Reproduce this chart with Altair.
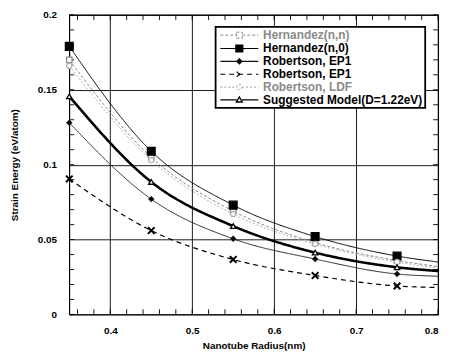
import altair as alt
import pandas as pd

# ---------------- data ----------------
radius = [0.35, 0.45, 0.55, 0.65, 0.75, 0.80]
marker_radius_max = 0.75

series_names = [
    "Hernandez(n,n)",
    "Hernandez(n,0)",
    "Robertson, EP1",
    "Robertson, EP1*",
    "Robertson, LDF",
    "Suggested Model(D=1.22eV)",
]
hern_nn = [0.170, 0.105, 0.069, 0.048, 0.036, 0.032]
hern_n0 = [0.179, 0.109, 0.073, 0.052, 0.039, 0.035]
rob_ep1_d = [0.128, 0.077, 0.0505, 0.037, 0.027, 0.0255]
rob_ep1_x = [0.0905, 0.056, 0.0367, 0.026, 0.019, 0.018]
rob_ldf = [0.166, 0.103, 0.067, 0.047, 0.035, 0.031]
suggested = [0.1456, 0.0885, 0.059, 0.0413, 0.0315, 0.029]
all_values = [hern_nn, hern_n0, rob_ep1_d, rob_ep1_x, rob_ldf, suggested]

x_minor = [round(0.36 + 0.02 * i, 2) for i in range(23)]
y_minor = [round(0.01 * i, 2) for i in range(21)]
x_labels = [0.4, 0.5, 0.6, 0.7, 0.8]
y_labels = [0, 0.05, 0.1, 0.15, 0.2]

XMARK = "M-1,-1L1,1M-1,1L1,-1"

# ---------------- styles ----------------
styles = {
    "Hernandez(n,n)": dict(color="#8a8a8a", dash=[3, 2], width=1.0, shape="square", fill="white", size=30, sw=1.3),
    "Hernandez(n,0)": dict(color="#000000", dash=[1, 0], width=1.0, shape="square", fill="#000000", size=62, sw=1.3),
    "Robertson, EP1": dict(color="#111111", dash=[1, 0], width=0.9, shape="diamond", fill="#000000", size=22, sw=1.3),
    "Robertson, EP1*": dict(color="#000000", dash=[5, 4], width=1.2, shape=XMARK, fill="#000000", size=45, sw=2.0),
    "Robertson, LDF": dict(color="#b0b0b0", dash=[2, 2], width=1.0, shape="circle", fill="white", size=28, sw=1.3),
    "Suggested Model(D=1.22eV)": dict(color="#000000", dash=[1, 0], width=2.6, shape="triangle-up", fill="white", size=30, sw=1.3),
}
legend_paths = {
    "Hernandez(n,n)": "M-3.2,0H-0.5M0.5,0H3.2M-0.5,-0.5H0.5V0.5H-0.5Z",
    "Hernandez(n,0)": "M-3.2,0H3.2M-0.6,-0.6H0.6V0.6H-0.6Z",
    "Robertson, EP1": "M-3.2,0H3.2M0,-0.45L0.45,0L0,0.45L-0.45,0Z",
    "Robertson, EP1*": "M-3.2,0H3.2M-0.45,-0.45L0.45,0.45M-0.45,0.45L0.45,-0.45",
    "Robertson, LDF": "M-3.2,0H-0.45M0.45,0H3.2M0.45,0A0.45,0.45 0 1,1 -0.45,0A0.45,0.45 0 1,1 0.45,0Z",
    "Suggested Model(D=1.22eV)": "M-3.2,0H-0.45M0.45,0H3.2M0,-0.5L0.5,0.35L-0.5,0.35Z",
}

rows = []
for name, vals in zip(series_names, all_values):
    for r, v in zip(radius, vals):
        rows.append({"series": name, "r": r, "e": v})
df = pd.DataFrame(rows)

FONT = "Liberation Sans"
xscale = alt.Scale(domain=[0.35, 0.8], nice=False, zero=False)
yscale = alt.Scale(domain=[0, 0.2], nice=False)

base = alt.Chart(df)

layers = []
for name in series_names:
    s = styles[name]
    line = base.transform_filter(alt.datum.series == name).mark_line(
        color=s["color"], strokeDash=s["dash"], strokeWidth=s["width"], interpolate="monotone"
    ).encode(
        x=alt.X("r:Q", scale=xscale,
                axis=alt.Axis(values=x_labels, format=".1f", title="Nanotube Radius(nm)",
                              grid=True, gridColor="#000", gridOpacity=1, gridWidth=0.9,
                              domain=False, ticks=False, labelFont=FONT, labelFontSize=10,
                              labelColor="#000", labelFontWeight="bold", labelPadding=11,
                              titleFont=FONT, titleFontSize=10, titleFontWeight="bold",
                              titleColor="#000", titlePadding=5)),
        y=alt.Y("e:Q", scale=yscale,
                axis=alt.Axis(values=y_labels, labelExpr="toString(datum.value)",
                              title="Strain Energy (eV/atom)",
                              grid=True, gridColor="#000", gridOpacity=1, gridWidth=0.9,
                              domain=False, ticks=False, labelFont=FONT, labelFontSize=10,
                              labelColor="#000", labelFontWeight="bold", labelPadding=13,
                              titleFont=FONT, titleFontSize=10, titleFontWeight="bold",
                              titleColor="#000", titlePadding=18)),
    )
    pts = base.transform_filter(
        (alt.datum.series == name) & (alt.datum.r <= marker_radius_max)
    ).mark_point(
        shape=s["shape"], filled=True, fill=s["fill"], stroke=s["color"],
        strokeWidth=s["sw"], size=s["size"], opacity=1
    ).encode(x="r:Q", y="e:Q")
    layers += [line, pts]

leg = alt.Legend(
    title=None,
    labelExpr="replace(datum.label, '*', '')",
    labelColor=alt.ExprRef(expr="(datum.value == 'Hernandez(n,n)' || datum.value == 'Robertson, LDF') ? '#8a8a8a' : '#000'"),
)

# legend-only layer (no visible marks)
legend_layer = base.transform_filter("datum.r < 0").mark_point(filled=True, opacity=1).encode(
    x="r:Q", y="e:Q",
    shape=alt.Shape("series:N", scale=alt.Scale(domain=series_names,
                                                 range=[legend_paths[n] for n in series_names]),
                    legend=leg),
    stroke=alt.Stroke("series:N", scale=alt.Scale(domain=series_names,
                                                   range=[styles[n]["color"] for n in series_names]),
                      legend=leg),
    fill=alt.Fill("series:N", scale=alt.Scale(domain=series_names,
                                               range=[styles[n]["fill"] for n in series_names]),
                  legend=leg),
    strokeDash=alt.StrokeDash("series:N", scale=alt.Scale(domain=series_names,
                                                           range=[styles[n]["dash"] for n in series_names]),
                              legend=leg),
    strokeWidth=alt.StrokeWidth("series:N", scale=alt.Scale(domain=series_names,
                                                             range=[1.0, 1.3, 1.0, 1.3, 1.0, 2.4]),
                                legend=leg),
)

# minor ticks (inward) on all four sides
xt = pd.DataFrame({"t": x_minor})
yt = pd.DataFrame({"t": y_minor})
tick_bottom = alt.Chart(xt).mark_rule(color="#000", strokeWidth=0.9).encode(
    x=alt.X("t:Q", scale=xscale), y=alt.datum(0), y2=alt.datum(0.0035))
tick_top = alt.Chart(xt).mark_rule(color="#000", strokeWidth=0.9).encode(
    x=alt.X("t:Q", scale=xscale), y=alt.datum(0.2), y2=alt.datum(0.1965))
tick_left = alt.Chart(yt).mark_rule(color="#000", strokeWidth=0.9).encode(
    y=alt.Y("t:Q", scale=yscale), x=alt.datum(0.35), x2=alt.datum(0.356))
tick_right = alt.Chart(yt).mark_rule(color="#000", strokeWidth=0.9).encode(
    y=alt.Y("t:Q", scale=yscale), x=alt.datum(0.8), x2=alt.datum(0.794))

chart = alt.layer(
    tick_bottom, tick_top, tick_left, tick_right, *layers, legend_layer
).properties(
    width=373, height=303,
    padding={"left": 62, "top": 5, "right": 4, "bottom": 36},
    autosize=alt.AutoSizeParams(type="none"),
    background="white",
).configure_view(
    stroke="#000", strokeWidth=1.2
).configure_legend(
    orient="none", legendX=148, legendY=12,
    strokeColor="#000", strokeWidth=1.8, fillColor="white",
    padding=2, rowPadding=0, symbolSize=144, symbolStrokeWidth=1.2,
    symbolOffset=15, labelOffset=17, symbolOpacity=1,
    labelFont=FONT, labelFontSize=12, labelFontWeight="bold",
    labelColor="#000", labelLimit=300,
)

chart.save("out.html", embed_options={"renderer": "svg", "actions": False})
